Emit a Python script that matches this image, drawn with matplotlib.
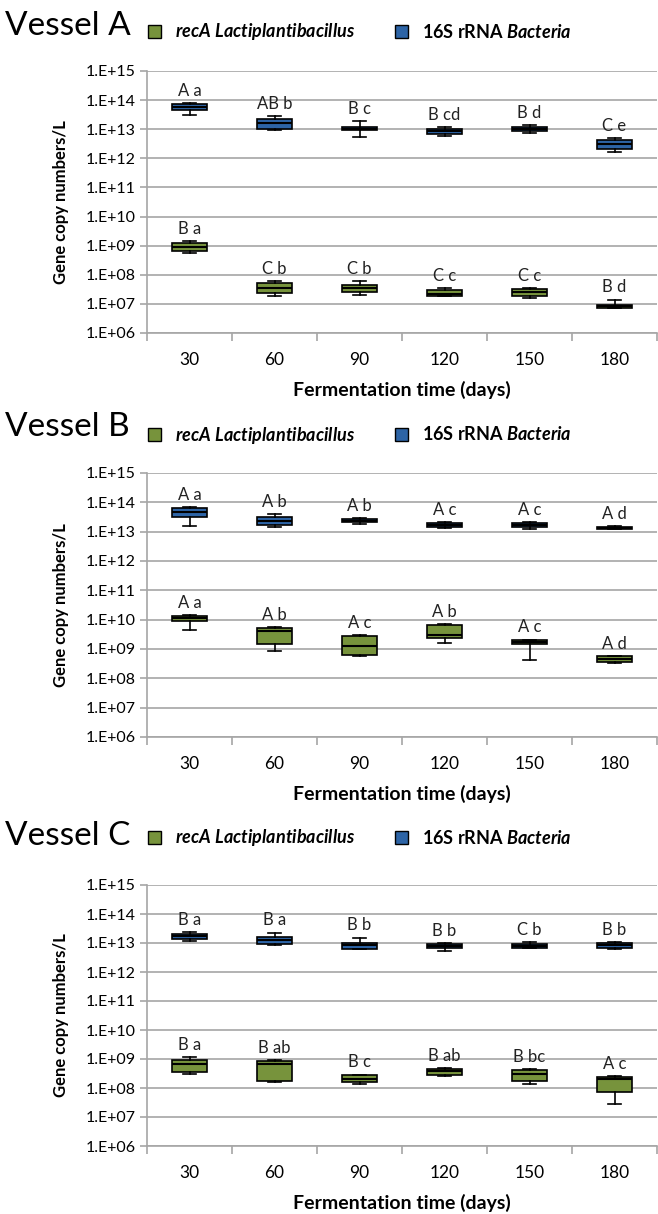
import numpy as np
import matplotlib.pyplot as plt
import matplotlib.ticker as ticker
from matplotlib.patches import Patch

plt.rcParams['font.family'] = ['Lato', 'DejaVu Sans']
plt.rcParams['mathtext.fontset'] = 'custom'
plt.rcParams['mathtext.it'] = 'Lato:italic:bold'
plt.rcParams['mathtext.rm'] = 'Lato:bold'

days = ['30', '60', '90', '120', '150', '180']
vessels = ['Vessel A', 'Vessel B', 'Vessel C']

# each entry: (whisker low, q1, median, q3, whisker high), gene copies / L
a_16s = [(3.0e13, 4.5e13, 6.0e13, 7.5e13, 8.0e13),
         (9.7e12, 1.05e13, 1.6e13, 2.3e13, 2.9e13),
         (5.5e12, 9.1e12, 1.05e13, 1.2e13, 1.9e13),
         (5.8e12, 6.6e12, 8.5e12, 1.05e13, 1.2e13),
         (7.4e12, 9.0e12, 1.05e13, 1.2e13, 1.4e13),
         (1.7e12, 2.1e12, 3.0e12, 4.1e12, 5.1e12)]
a_rec = [(5.8e8, 6.6e8, 8.8e8, 1.2e9, 1.48e9),
         (1.8e7, 2.35e7, 3.5e7, 5.2e7, 6.2e7),
         (2.06e7, 2.55e7, 3.5e7, 4.5e7, 5.9e7),
         (1.8e7, 1.85e7, 2.25e7, 2.9e7, 3.5e7),
         (1.6e7, 1.9e7, 2.5e7, 3.3e7, 3.5e7),
         (7.2e6, 7.5e6, 8.2e6, 9.0e6, 1.4e7)]
b_16s = [(1.6e13, 3.2e13, 4.8e13, 6.6e13, 7.1e13),
         (1.5e13, 1.65e13, 2.3e13, 3.1e13, 3.9e13),
         (1.8e13, 2.1e13, 2.3e13, 2.6e13, 3.0e13),
         (1.35e13, 1.45e13, 1.7e13, 2.0e13, 2.1e13),
         (1.2e13, 1.4e13, 1.7e13, 1.95e13, 2.1e13),
         (1.2e13, 1.22e13, 1.35e13, 1.5e13, 1.6e13)]
b_rec = [(4.5e9, 8.8e9, 1.14e10, 1.37e10, 1.45e10),
         (8.3e8, 1.5e9, 4.2e9, 5.2e9, 5.5e9),
         (5.6e8, 6.1e8, 1.23e9, 2.8e9, 2.9e9),
         (1.6e9, 2.4e9, 2.9e9, 6.7e9, 7.0e9),
         (4.1e8, 1.44e9, 1.73e9, 2.1e9, 2.1e9),
         (3.4e8, 3.5e8, 4.4e8, 5.6e8, 5.6e8)]
c_16s = [(1.17e13, 1.38e13, 1.7e13, 2.1e13, 2.35e13),
         (8.3e12, 9.5e12, 1.24e13, 1.6e13, 2.3e13),
         (6.0e12, 6.3e12, 8.3e12, 1.03e13, 1.53e13),
         (5.3e12, 6.7e12, 7.8e12, 9.0e12, 1.0e13),
         (6.5e12, 6.9e12, 8.0e12, 9.5e12, 1.1e13),
         (6.0e12, 6.9e12, 8.3e12, 1.0e13, 1.05e13)]
c_rec = [(2.95e8, 3.65e8, 6.7e8, 9.2e8, 1.14e9),
         (1.57e8, 1.8e8, 6.5e8, 8.8e8, 9.2e8),
         (1.4e8, 1.6e8, 2.1e8, 2.7e8, 2.9e8),
         (2.6e8, 2.9e8, 3.8e8, 4.6e8, 4.9e8),
         (1.35e8, 1.8e8, 3.0e8, 4.2e8, 4.4e8),
         (2.9e7, 7.3e7, 2.0e8, 2.45e8, 2.5e8)]

a_16s_lab = ['A a', 'AB b', 'B c', 'B cd', 'B d', 'C e']
a_rec_lab = ['B a', 'C b', 'C b', 'C c', 'C c', 'B d']
b_16s_lab = ['A a', 'A b', 'A b', 'A c', 'A c', 'A d']
b_rec_lab = ['A a', 'A b', 'A c', 'A b', 'A c', 'A d']
c_16s_lab = ['B a', 'B a', 'B b', 'B b', 'C b', 'B b']
c_rec_lab = ['B a', 'B ab', 'B c', 'B ab', 'B bc', 'A c']

green = '#77933C'
blue = '#2D64A6'
grid_c = '#A6A6A6'

W, H = 658, 1214
fig = plt.figure(figsize=(W / 100, H / 100), dpi=100)

# pixel positions: axes top (1e15) / bottom (1e6), title and legend centre
panels = [(71, 333, 26, 32), (473, 737, 427, 435), (885, 1146, 836, 838)]
ax_left, ax_right = 147, 657

def stats(rows):
    out = []
    for lo, q1, med, q3, hi in rows:
        out.append(dict(whislo=lo, q1=q1, med=med, q3=q3, whishi=hi, fliers=[]))
    return out

data = [(a_rec, a_16s, a_rec_lab, a_16s_lab),
        (b_rec, b_16s, b_rec_lab, b_16s_lab),
        (c_rec, c_16s, c_rec_lab, c_16s_lab)]

for k, (top, bot, ty, ly) in enumerate(panels):
    ax = fig.add_axes([ax_left / W, 1 - bot / H, (ax_right - ax_left) / W, (bot - top) / H])
    rec, r16, rec_lab, r16_lab = data[k]
    pos = np.arange(1, 7)
    for rows, col, labs in [(rec, green, rec_lab), (r16, blue, r16_lab)]:
        ax.bxp(stats(rows), positions=pos, widths=0.42, capwidths=0.16,
               showfliers=False, patch_artist=True,
               boxprops=dict(facecolor=col, edgecolor='black', linewidth=1.2),
               medianprops=dict(color='black', linewidth=1.5),
               whiskerprops=dict(color='black', linewidth=1.2),
               capprops=dict(color='black', linewidth=1.2), zorder=3)
        for p, r, t in zip(pos, rows, labs):
            ax.annotate(t, (p, r[4]), xytext=(0, 3), textcoords='offset points',
                        ha='center', va='bottom', fontsize=12, color='#222222')
    ax.set_yscale('log')
    ax.set_ylim(1e6, 1e15)
    ax.set_xlim(0.5, 6.5)
    ax.yaxis.set_major_locator(ticker.LogLocator(base=10, numticks=20))
    ax.yaxis.set_minor_locator(ticker.NullLocator())
    ax.yaxis.set_major_formatter(ticker.FuncFormatter(lambda v, p: '1.E+%02d' % round(np.log10(v))))
    ax.set_xticks(np.arange(0.5, 7, 1))
    ax.set_xticklabels([])
    ax.set_xticks(pos, minor=True)
    ax.set_xticklabels(days, minor=True)
    ax.tick_params(axis='x', which='major', length=6, color=grid_c, width=1.2)
    ax.tick_params(axis='x', which='minor', length=0, pad=14, labelsize=12.5)
    ax.tick_params(axis='y', length=5, color=grid_c, width=1.2, labelsize=11.5, pad=3)
    ax.grid(axis='y', color=grid_c, linewidth=1.2, zorder=0)
    ax.set_axisbelow(True)
    for s in ['top', 'right']:
        ax.spines[s].set_visible(False)
    for s in ['left', 'bottom']:
        ax.spines[s].set_color(grid_c)
        ax.spines[s].set_linewidth(1.2)
    ax.set_ylabel('Gene copy numbers/L', fontsize=12, fontweight='bold', labelpad=12)
    ax.set_xlabel('Fermentation time (days)', fontsize=14, fontweight='bold', labelpad=9)

    fig.text(5 / W, 1 - ty / H, vessels[k], fontsize=24, va='center', ha='left')
    handles = [Patch(facecolor=green, edgecolor='black'), Patch(facecolor=blue, edgecolor='black')]
    labels = [r'$recA\ Lactiplantibacillus$', r'16S rRNA $Bacteria$']
    fig.legend(handles, labels, loc='center left', bbox_to_anchor=(132 / W, 1 - ly / H),
               ncol=2, frameon=False, handlelength=0.7, handleheight=0.7,
               columnspacing=2.2, handletextpad=0.8,
               prop=dict(size=13, weight='bold'))

fig.savefig('out.png', dpi=100)
